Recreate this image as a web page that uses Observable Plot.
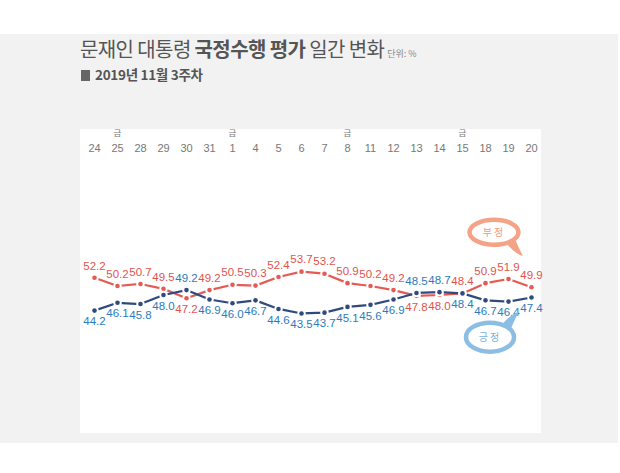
<!DOCTYPE html>
<html><head><meta charset="utf-8">
<script src="https://cdn.jsdelivr.net/npm/d3@7"></script>
<script src="https://cdn.jsdelivr.net/npm/@observablehq/plot@0.6"></script>
<style>
body{margin:0;background:#fff;font-family:"Noto Sans CJK KR","Noto Sans",sans-serif;}
#bg{position:absolute;left:0;top:34px;width:618px;height:409px;background:#f2f2f2;}
#title{position:absolute;left:80px;top:34px;font-size:20px;color:#555;letter-spacing:-0.6px;white-space:nowrap;}
#title b{font-weight:700;}
#title small{font-size:9px;color:#888;letter-spacing:0;margin-left:3px;}
#sub{position:absolute;left:81px;top:64px;font-size:13.5px;font-weight:700;color:#555;white-space:nowrap;letter-spacing:-0.3px;}
#sub span{display:inline-block;width:9px;height:11px;background:#666;margin-right:5px;vertical-align:-1px;}
#chart{position:absolute;left:80px;top:129px;}
#chart svg{overflow:visible;display:block;}
</style></head>
<body>
<div id="bg"></div>
<div id="title">문재인 대통령 <b>국정수행 평가</b> 일간 변화<small>단위: %</small></div>
<div id="sub"><span></span>2019년 11월 3주차</div>
<div id="chart"></div>
<script>
const dates = ["24","25","28","29","30","31","1","4","5","6","7","8","11","12","13","14","15","18","19","20"];
const fridays = ["25","1","8","15"];
const negative = [52.2,50.2,50.7,49.5,47.2,49.2,50.5,50.3,52.4,53.7,53.2,50.9,50.2,49.2,47.8,48.0,48.4,50.9,51.9,49.9];
const positive = [44.2,46.1,45.8,48.0,49.2,46.9,46.0,46.7,44.6,43.5,43.7,45.1,45.6,46.9,48.5,48.7,48.4,46.7,46.4,47.4];
const seriesNames = ["부정","긍정"];
const legendPos = [{name:"부정", date:"18", value:63.2}, {name:"긍정", date:"18", value:37.6}];

const lineColor = {"부정":"#e55a55","긍정":"#2f4b7d"};
const labelColor = {"부정":"#e4524c","긍정":"#2a7bbd"};

const rows = [];
dates.forEach((d,i)=>{
  rows.push({date:d, value:negative[i], series:"부정", above: negative[i] >= positive[i]});
  rows.push({date:d, value:positive[i], series:"긍정", above: positive[i] > negative[i]});
});

const font = '"Noto Sans CJK KR","Noto Sans",sans-serif';
const narrow = '"Liberation Sans","Arial",sans-serif';
const chart = Plot.plot({
  width:461, height:304,
  marginTop:0, marginBottom:0, marginLeft:8, marginRight:5,
  style:{background:"#fff", fontFamily:font},
  x:{type:"point", domain:dates, padding:0, axis:null},
  y:{domain:[14.2,88.4], axis:null},
  color:{domain:seriesNames, range:[lineColor["부정"], lineColor["긍정"]]},
  marks:[
    Plot.text(dates,{x:d=>d, frameAnchor:"top", dy:15, fill:"#777", fontSize:11, fontFamily:narrow, letterSpacing:-0.3}),
    Plot.text(fridays,{x:d=>d, text:()=>"금", frameAnchor:"top", dy:0, fill:"#777", fontSize:8.5}),
    Plot.line(rows,{x:"date", y:"value", z:"series", stroke:"series", strokeWidth:2.2}),
    Plot.dot(rows,{x:"date", y:"value", fill:"series", r:2.3, stroke:"#fff", strokeWidth:4, paintOrder:"stroke"}),
    Plot.text(rows.filter(d=>d.above),{x:"date", y:"value", text:d=>d.value.toFixed(1), dy:-12, fill:d=>labelColor[d.series], fontSize:11.5, fontFamily:narrow, letterSpacing:-0.7}),
    Plot.text(rows.filter(d=>!d.above),{x:"date", y:"value", text:d=>d.value.toFixed(1), dy:11, fill:d=>labelColor[d.series], fontSize:11.5, fontFamily:narrow, letterSpacing:-0.7})
  ]
});
document.getElementById("chart").append(chart);

// speech-bubble legend
const sx = chart.scale("x"), sy = chart.scale("y");
const svg = d3.select(chart);
const bubbleStyle = {"부정":{stroke:"#f4a387", text:"#f09a80", rx:24.5, ry:12.5, tail:1, dx:9},
                     "긍정":{stroke:"#8cbde2", text:"#7bb0dc", rx:24, ry:14.5, tail:-1, dx:5}};
legendPos.forEach(p=>{
  const st = bubbleStyle[p.name];
  const cx = sx.apply(p.date) + st.dx, cy = sy.apply(p.value);
  const g = svg.append("g");
  const t = st.tail;
  g.append("path")
    .attr("d", `M${cx+11},${cy+t*(st.ry-3)} L${cx+20},${cy+t*(st.ry-8)} Q${cx+26},${cy+t*(st.ry+6)} ${cx+29},${cy+t*(st.ry+11)} Q${cx+22},${cy+t*(st.ry+10)} ${cx+11},${cy+t*(st.ry-3)} Z`)
    .attr("fill", st.stroke);
  g.append("ellipse").attr("cx",cx).attr("cy",cy).attr("rx",st.rx).attr("ry",st.ry)
    .attr("fill","#fff").attr("stroke",st.stroke).attr("stroke-width",4.5);
  g.append("text").attr("x",cx).attr("y",cy).attr("text-anchor","middle").attr("dy","0.35em")
    .attr("fill",st.text).attr("font-size",10).attr("letter-spacing",2).attr("font-family",font).text(p.name);
});
</script>
</body></html>
